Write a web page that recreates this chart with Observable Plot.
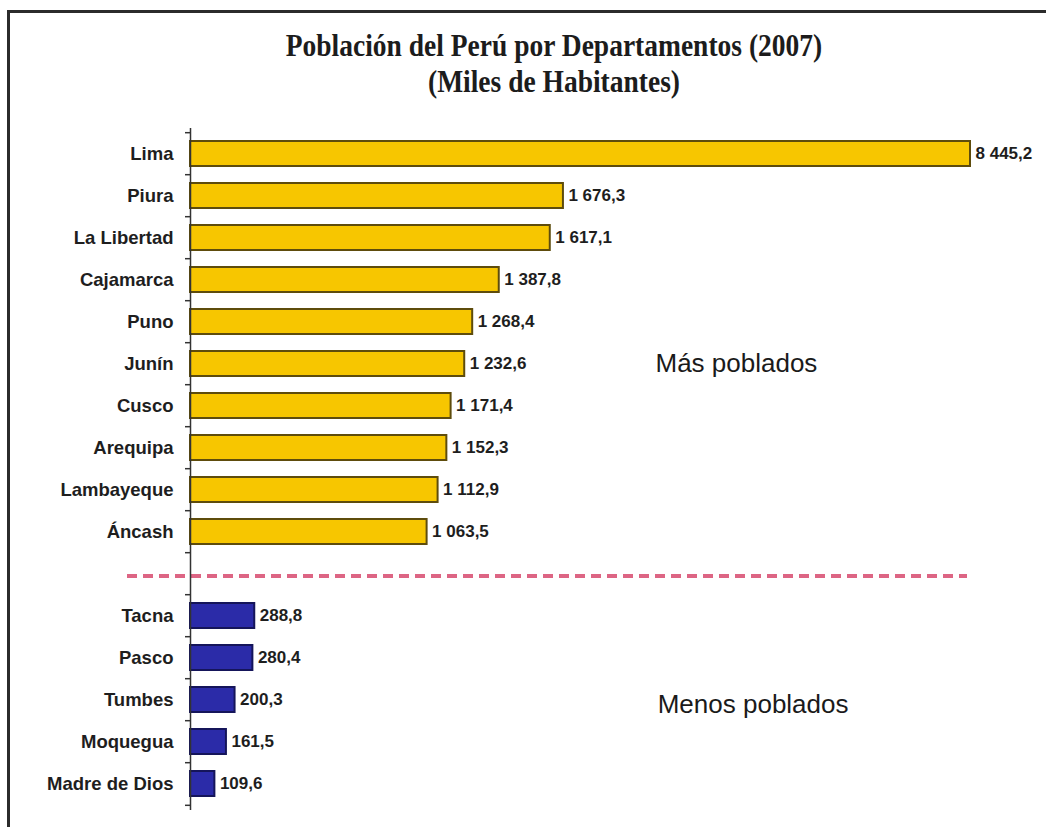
<!DOCTYPE html>
<html>
<head>
<meta charset="utf-8">
<script src="https://cdn.jsdelivr.net/npm/d3@7"></script>
<script src="https://cdn.jsdelivr.net/npm/@observablehq/plot@0.6"></script>
<style>
  html, body { margin: 0; padding: 0; background: #fff; }
  #frame { position: absolute; left: 7px; top: 10px; width: 1200px; height: 1000px;
           border-top: 3px solid #2b2b2b; border-left: 3px solid #2b2b2b; box-sizing: border-box; }
  #wrap { position: absolute; left: 0; top: 0; width: 1046px; }
  #title { position: relative; height: 120px; font-family: "Liberation Serif", "Times New Roman", serif;
           font-weight: bold; font-size: 27.5px; color: #1c1c1c; }
  #title div { position: absolute; left: 62px; right: 0; text-align: center; line-height: 32px;
               transform: scaleY(1.12); transform-origin: center; }
  #chart svg { display: block; background: transparent; }
</style>
</head>
<body>
<div id="frame"></div>
<div id="wrap">
  <div id="title">
    <div style="top:30px">Población del Perú por Departamentos (2007)</div>
    <div style="top:66px">(Miles de Habitantes)</div>
  </div>
  <div id="chart"></div>
</div>
<script>
// Data (miles de habitantes)
const masCats = ["Lima", "Piura", "La Libertad", "Cajamarca", "Puno", "Junín", "Cusco", "Arequipa", "Lambayeque", "Áncash"];
const masVals = [8445.2, 1676.3, 1617.1, 1387.8, 1268.4, 1232.6, 1171.4, 1152.3, 1112.9, 1063.5];
const menosCats = ["Tacna", "Pasco", "Tumbes", "Moquegua", "Madre de Dios"];
const menosVals = [288.8, 280.4, 200.3, 161.5, 109.6];
const SEP = "__sep__";
const annotLabels = ["Más poblados", "Menos poblados"];
const annotRows = ["Junín", "Tumbes"];
const annotX = [2090, 2100];
const xMax = 3506; // visible scale limit; Lima is truncated at the edge

const mas = masCats.map((name, i) => ({name, value: masVals[i]}));
const menos = menosCats.map((name, i) => ({name, value: menosVals[i]}));
const all = mas.concat(menos);
const annots = annotLabels.map((t, i) => ({t, y: annotRows[i], x: annotX[i]}));
const domain = [...masCats, SEP, ...menosCats];

const locale = d3.formatLocale({decimal: ",", thousands: " ", grouping: [3], currency: ["", ""]});
const fmt = locale.format(",.1f");

const height = 707, marginTop = 8, marginBottom = 17;
const step = (height - marginTop - marginBottom) / domain.length;

const chart = Plot.plot({
  width: 1046,
  height,
  marginLeft: 190,
  marginRight: 76,
  marginTop,
  marginBottom,
  style: {fontFamily: "'Liberation Sans', Arial, sans-serif", background: "transparent"},
  x: {domain: [0, xMax], clamp: true, axis: null},
  y: {domain, paddingInner: 0.4, paddingOuter: 0.2, label: null},
  marks: [
    Plot.ruleY([SEP], {stroke: "#dd6584", strokeWidth: 4, strokeDasharray: "10,6", insetLeft: -63, insetRight: 3, dy: 2}),
    Plot.barX(mas, {x: "value", y: "name", fill: "#F7C600", stroke: "#5e4c0c", strokeWidth: 2}),
    Plot.barX(menos, {x: "value", y: "name", fill: "#2B2BA8", stroke: "#15155a", strokeWidth: 2}),
    Plot.text(all, {x: "value", y: "name", text: d => fmt(d.value), textAnchor: "start", dx: 5,
                    fontSize: 17, fontWeight: "bold", fill: "#1e1e1e"}),
    Plot.ruleX([0], {stroke: "#333", strokeWidth: 1.5}),
    Plot.axisY({tickSize: 0, tickPadding: 17, tickFormat: d => d === SEP ? "" : d,
                fontSize: 18.5, fontWeight: "bold", fill: "#1e1e1e", label: null}),
    Plot.axisY({text: null, tickSize: 5, dy: -step / 2, stroke: "#333", strokeWidth: 1.5, label: null}),
    Plot.axisY([menosCats[menosCats.length - 1]], {text: null, tickSize: 5, dy: step / 2, stroke: "#333", strokeWidth: 1.5, label: null}),
    Plot.text(annots.slice(0, 1), {x: "x", y: "y", text: "t", textAnchor: "start", fontSize: 26, fill: "#1a1a1a"}),
    Plot.text(annots.slice(1), {x: "x", y: "y", text: "t", textAnchor: "start", fontSize: 26, fill: "#1a1a1a", dy: 5})
  ]
});
document.getElementById("chart").appendChild(chart);
</script>
</body>
</html>
